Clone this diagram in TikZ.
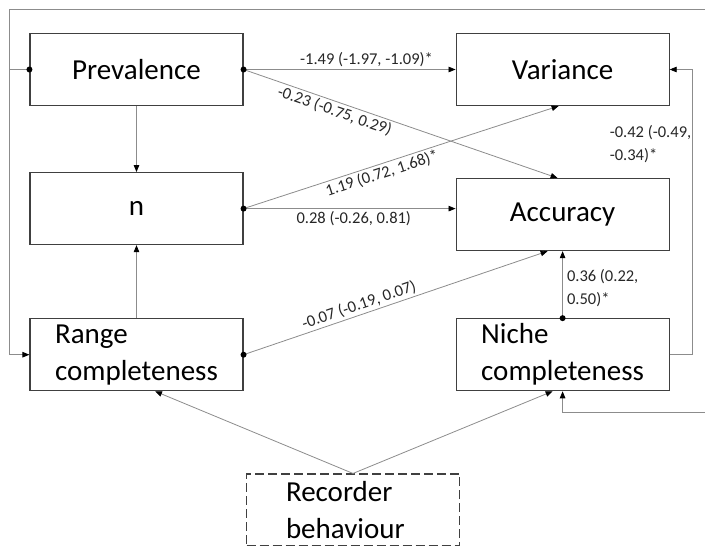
\documentclass[tikz,border=0pt]{standalone}
\usepackage{fontspec}
\setmainfont{Carlito}
\usetikzlibrary{arrows.meta, positioning}
\definecolor{BoxLine}{HTML}{404040}
\definecolor{WireGrey}{HTML}{8C8C8C}
\definecolor{LabelInk}{HTML}{262626}
\tikzset{
  varbox/.style={rectangle, draw=BoxLine, line width=1.1pt, minimum width=213pt, minimum height=72pt, inner sep=0pt, font=\fontsize{29}{37}\selectfont, align=center},
  latentbox/.style={varbox, dash pattern=on 9pt off 4pt},
  wire/.style={draw=WireGrey, line width=0.8pt},
  arrow/.style={wire, -{Triangle[length=7pt, width=5.5pt, color=black]}},
  coef/.style={font=\fontsize{16.5}{23}\selectfont, text=LabelInk, inner sep=2pt}
}
\begin{document}
\begin{tikzpicture}[x=1pt, y=-1pt]
  \useasboundingbox (0,0) rectangle (705,546);
  \node[varbox] (prev) at (136.5,69.5) {Prevalence};
  \node[varbox, right=212pt of prev] (var) {Variance};
  \node[varbox, below=66pt of prev] (nn) {n};
  \node[varbox, below=72pt of var] (acc) {Accuracy};
  \node[varbox, below=73pt of nn, align=left] (range) {Range\\completeness};
  \node[varbox, below=67pt of acc, align=left] (niche) {Niche\\completeness};
  \node[latentbox, text width=134pt, align=left] (rec) at (353,510) {Recorder\\behaviour};

  \coordinate (loopl) at (9,9);
  \coordinate (loopr) at (706,9);
  \coordinate (loopb) at (706,412);

  \draw[arrow] (prev.east) -- node[coef, above, pos=0.58] {-1.49 (-1.97, -1.09)*} (var.west);
  \draw[arrow] (prev.east) -- node[coef, below, sloped, pos=0.3] {-0.23 (-0.75, 0.29)} ([xshift=-5pt]acc.north);
  \draw[arrow] (prev.south) -- (nn.north);
  \draw[arrow] (nn.east) -- node[coef, below, sloped, pos=0.43] {1.19 (0.72, 1.68)*} ([xshift=-4pt]var.south);
  \draw[arrow] (nn.east) -- node[coef, below, pos=0.52] {0.28 (-0.26, 0.81)} (nn.east -| acc.west);
  \draw[arrow] (range.north) -- (nn.south);
  \draw[arrow] (range.east) -- node[coef, above, sloped, pos=0.39] {-0.07 (-0.19, 0.07)} ([xshift=-15pt]acc.south);
  \draw[arrow] (niche.north) -- node[coef, right, align=left, pos=0.45, xshift=2pt] {0.36 (0.22,\\0.50)*} (acc.south);
  \draw[arrow] (niche.east) -- ++(23,0) |- node[coef, left, align=left, pos=0.37, inner sep=1pt] {-0.42 (-0.49,\\-0.34)*} (var.east);

  % recorder behaviour feeds both completeness measures
  \draw[arrow] (rec.north) -- ([xshift=18.5pt]range.south);
  \draw[arrow] (rec.north) -- ([xshift=-10pt]niche.south);

  % prevalence loops round the outside
  \draw[arrow] (prev.west) -- (prev.west -| loopl) |- (range.west);
  \draw[arrow] (prev.west -| loopl) -- (loopl) -- (loopr) -- (loopb) -| (niche.south);

  \foreach \d in {prev.east, prev.west, nn.east, range.east, niche.north}
    \fill (\d) circle (3pt);
\end{tikzpicture}
\end{document}
